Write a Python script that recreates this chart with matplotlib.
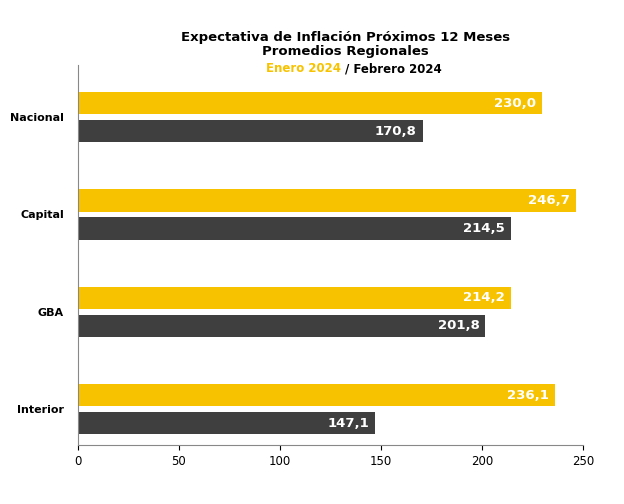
import matplotlib.pyplot as plt
import numpy as np

regiones = ['Nacional', 'Capital', 'GBA', 'Interior']
enero = [230.0, 246.7, 214.2, 236.1]
febrero = [170.8, 214.5, 201.8, 147.1]

amarillo = '#F7C300'
gris = '#3F3F3F'

fig = plt.figure(figsize=(6.24, 5.04), dpi=100)
ax = fig.add_axes([0.125, 0.117, 0.809, 0.754])

y = np.arange(len(regiones))
off = 0.144
h = 0.23
b1 = ax.barh(y - off, enero, height=h, color=amarillo)
b2 = ax.barh(y + off, febrero, height=h, color=gris)

for bars, vals in ((b1, enero), (b2, febrero)):
    for bar, v in zip(bars, vals):
        ax.text(bar.get_width() - 3, bar.get_y() + bar.get_height() / 2,
                f'{v:.1f}'.replace('.', ','), ha='right', va='center',
                color='white', fontweight='bold', fontsize=9.5)

ax.set_yticks(y)
ax.set_yticklabels(regiones, fontweight='bold', fontsize=8)
ax.set_ylim(3.37, -0.536)
ax.set_xlim(0, 250)
ax.set_xticks([0, 50, 100, 150, 200, 250])
ax.tick_params(axis='x', labelsize=8.5)
ax.tick_params(axis='y', length=0, pad=10)
for s in ('top', 'right'):
    ax.spines[s].set_visible(False)
ax.spines['left'].set_color('#888888')
ax.spines['bottom'].set_color('#888888')

fig.text(0.553, 0.885, 'Expectativa de Inflación Próximos 12 Meses\nPromedios Regionales',
         ha='center', va='bottom', fontweight='bold', fontsize=9.5, linespacing=1.1)
fig.text(0.553, 0.851, 'Enero 2024 ', ha='right', va='bottom',
         fontweight='bold', fontsize=8.5, color=amarillo)
fig.text(0.553, 0.851, '/ Febrero 2024', ha='left', va='bottom',
         fontweight='bold', fontsize=8.5, color='black')

fig.savefig('out.png', dpi=100)
